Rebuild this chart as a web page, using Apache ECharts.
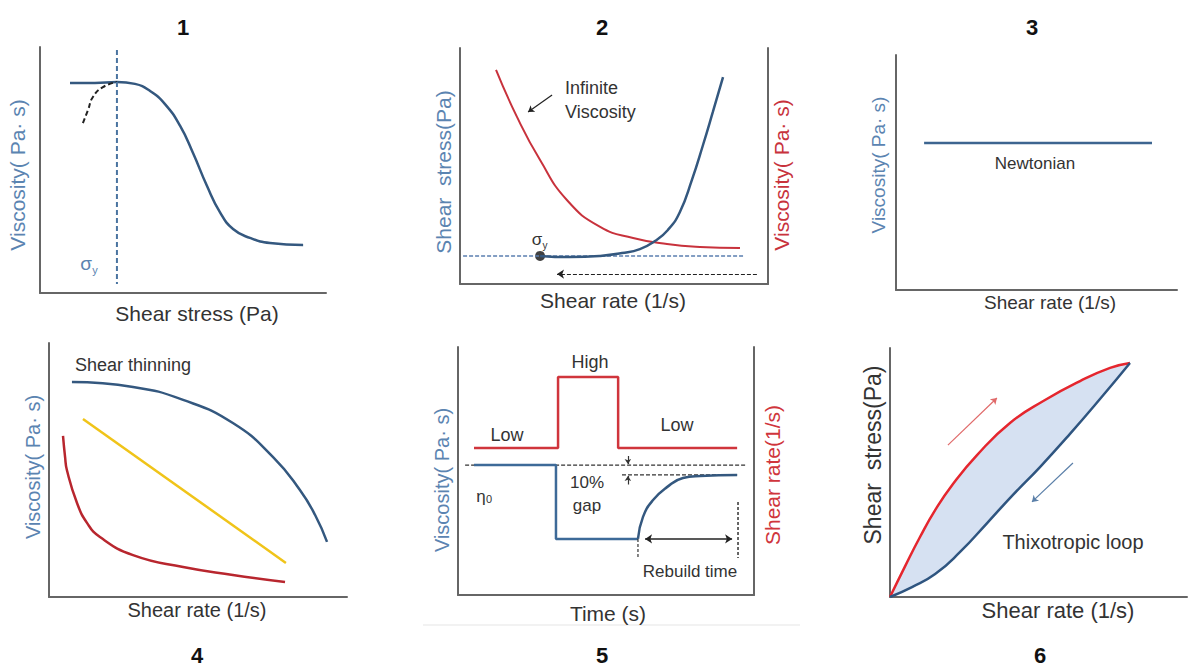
<!DOCTYPE html>
<html>
<head>
<meta charset="utf-8">
<script src="https://cdn.jsdelivr.net/npm/echarts@6/dist/echarts.min.js"></script>
<style>
  html, body { margin: 0; padding: 0; background: #fff; }
  #main { width: 1188px; height: 666px; }
</style>
</head>
<body>
<div id="main"></div>
<script>
// panel 1 - yield stress
var p1Viscosity = [[10.5,85.4],[19.2,85.4],[26.9,85.8],[33.2,85],[38.5,82.1],[43.7,76.8],[49,67.9],[53.5,56.9],[58.4,43.5],[62.9,32.9],[67.5,26],[73.4,22.4],[80.4,20.3],[92,19.5]];
var p1Dashed = [[15,69.1],[16.8,74.4],[18.5,79.7],[22,83.7],[26.9,85.8]];
var p1Yield = [[26.9,98.8],[26.9,3.7]];

// panel 2 - stress / viscosity vs rate
var p2Stress = [[26,11.9],[35.7,11.4],[45.5,11.9],[52.6,13.1],[58.4,14.8],[63.3,18.2],[67.5,22.9],[71.4,30.5],[75.3,44.1],[78.9,58.9],[82.1,72.9],[85.4,87.7]];
var p2Viscosity = [[11.7,90.7],[18.5,70.8],[26,52.5],[34.7,35.6],[45.5,24.2],[56.2,19.5],[67.2,16.9],[77.9,15.7],[90.9,15.3]];
var p2YieldLine = [[1,11.9],[91.9,11.9]];
var p2YieldPoint = [[26,11.9]];
var p2Return = [[96.4,4.2],[31.5,4.2]];
var p2Pointer = [[29.9,80.1],[22.1,72.9]];

// panel 3 - newtonian
var p3Newtonian = [[10,62.6],[91.1,62.6]];

// panel 4 - shear thinning
var p4Thinning = [[7.7,84.6],[28.2,82.7],[45,77.6],[61.7,68.5],[75.2,55.1],[84.2,42.1],[89.3,32.3],[93.3,21.7]];
var p4Linear = [[11.4,70.1],[79.5,13.4]];
var p4Red = [[4.7,63.4],[5.4,55.1],[6,50],[9.4,37],[12.8,29.1],[17.1,23.6],[28.2,16.5],[45,11.8],[61.7,8.7],[79.2,5.9]];

// panel 5 - 3ITT
var p5Rate = [[5.4,59.3],[33.8,59.3],[33.8,87.9],[54.1,87.9],[54.1,59.3],[94.3,59.3]];
var p5Drop = [[5.4,52.4],[33.1,52.4],[33.1,22.6],[60.8,22.6]];
var p5Rebuild = [[60.8,22.6],[62.5,31.5],[65.9,38.3],[70.6,43.5],[76,47.2],[81.8,48],[94.3,48.4]];
var p5Eta0Line = [[2.4,52.4],[97.6,52.4]];
var p5GapLine = [[55.4,48.4],[94.3,48.4]];
var p5GapTop = [[57.4,56],[57.4,52.8]];
var p5GapBottom = [[57.4,44.6],[57.4,48]];
var p5MarkStart = [[60.8,22.6],[60.8,15.3]];
var p5MarkEnd = [[94.6,37.5],[94.6,14.9]];
var p5Span = [[63.2,22.6],[92.6,22.6]];

// panel 6 - thixotropic loop
var p6Up = [[0,0],[5.1,12.4],[10.1,24.1],[15.2,34.9],[21.2,45.4],[29.3,57],[40.4,69.9],[52.2,79.1],[64,86.7],[74.1,92],[80.8,94]];
var p6Down = [[80.8,94],[70.7,79.5],[60.6,65.5],[50.5,52.2],[41.4,41],[32.7,29.7],[23.6,18.1],[15.2,9.2],[7.4,4],[0,0]];
var p6UpArrow = [[19.5,61],[36,79.9]];
var p6DownArrow = [[61.6,53.8],[47.8,38.2]];

var FONT = '"Liberation Sans", Arial, sans-serif';
var BLUE = '#34587f';
var BLUE_TXT = '#5b84b1';
var DARK = '#333';

var myChart = echarts.init(document.getElementById('main'), null, { renderer: 'svg' });

var grids = [
    { left: 40, top: 47, width: 286, height: 246 },
    { left: 460, top: 48, width: 308, height: 236 },
    { left: 896, top: 55, width: 281, height: 235 },
    { left: 49, top: 343, width: 298, height: 254 },
    { left: 458, top: 347, width: 296, height: 248 },
    { left: 890, top: 348, width: 297, height: 249 }
];

function axis(gridIndex, position) {
    return {
        type: 'value', gridIndex: gridIndex, min: 0, max: 100, position: position,
        axisLine: { show: true, onZero: false, lineStyle: { color: '#666', width: 2 } },
        axisTick: { show: false }, axisLabel: { show: false }, splitLine: { show: false }
    };
}

function curve(idx, data, color, width, extra) {
    var s = {
        type: 'line', xAxisIndex: idx, yAxisIndex: idx, data: data,
        showSymbol: false, symbol: 'none', silent: true,
        lineStyle: { color: color, width: width }
    };
    if (extra) {
        for (var k in extra) {
            if (k === 'dash') s.lineStyle.type = extra.dash;
            else s[k] = extra[k];
        }
    }
    return s;
}

function arrow(idx, pts, color, width, both, dashed, size) {
    return {
        type: 'lines', coordinateSystem: 'cartesian2d', xAxisIndex: idx, yAxisIndex: idx,
        symbol: both ? ['arrow', 'arrow'] : ['none', 'arrow'], symbolSize: size || 8, silent: true,
        lineStyle: { color: color, width: width, type: dashed ? [4, 2] : 'solid', opacity: 1, curveness: 0 },
        data: [{ coords: pts }]
    };
}

function txt(x, y, text, size, color, opts) {
    opts = opts || {};
    return {
        type: 'text', x: x, y: y, rotation: opts.rot ? Math.PI / 2 : 0, silent: true,
        style: {
            text: text, fill: color || DARK,
            font: (opts.bold ? 'bold ' : '') + size + 'px ' + FONT,
            align: opts.align || 'center', verticalAlign: 'middle',
            textAlign: opts.align || 'center', textVerticalAlign: 'middle'
        }
    };
}

var smooth = { smooth: 0.5 };

var option = {
    animation: false,
    backgroundColor: '#fff',
    grid: grids,
    xAxis: [axis(0, 'bottom'), axis(1, 'bottom'), axis(2, 'bottom'), axis(3, 'bottom'), axis(4, 'bottom'), axis(5, 'bottom')],
    yAxis: [axis(0, 'left'), axis(1, 'left'), axis(2, 'left'), axis(3, 'left'), axis(4, 'left'), axis(5, 'left'),
            axis(1, 'right'), axis(4, 'right')],
    series: [
        // 1
        curve(0, p1Viscosity, BLUE, 2.5, smooth),
        curve(0, p1Dashed, '#222', 2, { smooth: 0.5, dash: [5, 3] }),
        curve(0, p1Yield, '#4a74a0', 2, { dash: [5, 3] }),
        // 2
        curve(1, p2YieldLine, '#5b7fb0', 1.5, { dash: [4, 2] }),
        curve(1, p2Viscosity, '#c8323c', 2, smooth),
        curve(1, p2Stress, BLUE, 2.5, smooth),
        { type: 'scatter', xAxisIndex: 1, yAxisIndex: 1, data: p2YieldPoint, symbolSize: 10, itemStyle: { color: '#111' }, silent: true },
        arrow(1, p2Return, '#222', 1.2, false, true, 7),
        arrow(1, p2Pointer, '#222', 1.2, false, false, 6),
        // 3
        curve(2, p3Newtonian, '#3d6590', 2.5),
        // 4
        curve(3, p4Thinning, BLUE, 2.5, smooth),
        curve(3, p4Linear, '#f0c419', 2.5),
        curve(3, p4Red, '#b8262e', 2.5, smooth),
        // 5
        curve(4, p5Eta0Line, '#333', 1.2, { dash: [4, 2] }),
        curve(4, p5GapLine, '#333', 1.2, { dash: [4, 2] }),
        curve(4, p5Rate, '#d0353c', 2.5),
        curve(4, p5Drop, '#3d6a98', 2.5),
        curve(4, p5Rebuild, BLUE, 2.5, smooth),
        curve(4, p5MarkStart, '#333', 1.2, { dash: [3, 2] }),
        curve(4, p5MarkEnd, '#333', 1.5, { dash: [3, 2] }),
        arrow(4, p5GapTop, '#333', 1.2, false, false, 5),
        arrow(4, p5GapBottom, '#333', 1.2, false, false, 5),
        arrow(4, p5Span, '#222', 1.5, true, false, 7),
        // 6
        {
            type: 'custom', xAxisIndex: 5, yAxisIndex: 5, data: [[0, 0]], silent: true, z: 1,
            renderItem: function (params, api) {
                var pts = p6Up.concat(p6Down.slice(1, -1)).map(function (p) { return api.coord(p); });
                return { type: 'polygon', shape: { points: pts, smooth: 0.2 }, style: { fill: '#d6e1f2' } };
            }
        },
        curve(5, p6Up, '#e5262e', 2.5, smooth),
        curve(5, p6Down, '#2f5580', 2.5, smooth),
        arrow(5, p6UpArrow, '#e06a6a', 1.2, false, false, 6),
        arrow(5, p6DownArrow, '#5a7fa8', 1.2, false, false, 6)
    ],
    graphic: [
        // panel numbers
        txt(183, 27, '1', 22, '#111', { bold: true }),
        txt(602, 27, '2', 22, '#111', { bold: true }),
        txt(1032, 27, '3', 22, '#111', { bold: true }),
        txt(197, 655, '4', 22, '#111', { bold: true }),
        txt(602, 655, '5', 22, '#111', { bold: true }),
        txt(1040, 655, '6', 22, '#111', { bold: true }),
        // faint separator under panel 5
        { type: 'line', silent: true, shape: { x1: 423, y1: 625, x2: 800, y2: 625 }, style: { stroke: '#eeeeee', lineWidth: 1.5 } },
        // 1
        txt(17, 175, 'Viscosity( Pa· s)', 21, BLUE_TXT, { rot: true }),
        txt(197, 313, 'Shear stress (Pa)', 21, DARK),
        txt(86, 263, 'σ', 19, BLUE_TXT),
        txt(95, 270, 'y', 11, BLUE_TXT),
        // 2
        txt(443, 172, 'Shear  stress(Pa)', 21, BLUE_TXT, { rot: true }),
        txt(781, 175, 'Viscosity( Pa· s)', 21, '#c8323c', { rot: true }),
        txt(613, 300, 'Shear rate (1/s)', 21, DARK),
        txt(565, 88, 'Infinite', 18, DARK, { align: 'left' }),
        txt(565, 112, 'Viscosity', 18, DARK, { align: 'left' }),
        txt(537, 239, 'σ', 17, DARK),
        txt(545, 245, 'y', 10, DARK),
        // 3
        txt(878, 165, 'Viscosity( Pa· s)', 19, BLUE_TXT, { rot: true }),
        txt(1050, 302, 'Shear rate (1/s)', 19, DARK),
        txt(1035, 163, 'Newtonian', 17, DARK),
        // 4
        txt(33, 467, 'Viscosity( Pa· s)', 20, BLUE_TXT, { rot: true }),
        txt(197, 610, 'Shear rate (1/s)', 20, DARK),
        txt(75, 365, 'Shear thinning', 18, DARK, { align: 'left' }),
        // 5
        txt(442, 480, 'Viscosity( Pa· s)', 20, BLUE_TXT, { rot: true }),
        txt(772, 475, 'Shear rate(1/s)', 21, '#d0353c', { rot: true }),
        txt(608, 613, 'Time (s)', 21, DARK),
        txt(507, 435, 'Low', 18, DARK),
        txt(590, 362, 'High', 18, DARK),
        txt(677, 425, 'Low', 18, DARK),
        txt(587, 482, '10%', 17, DARK),
        txt(587, 505, 'gap', 17, DARK),
        txt(481, 496, 'η', 17, DARK),
        txt(489, 499, '0', 11, DARK),
        txt(690, 571, 'Rebuild time', 17, DARK),
        // 6
        txt(873, 455, 'Shear  stress(Pa)', 23, DARK, { rot: true }),
        txt(1058, 610, 'Shear rate (1/s)', 22, DARK),
        txt(1073, 542, 'Thixotropic loop', 20, DARK)
    ]
};

myChart.setOption(option);
</script>
</body>
</html>
